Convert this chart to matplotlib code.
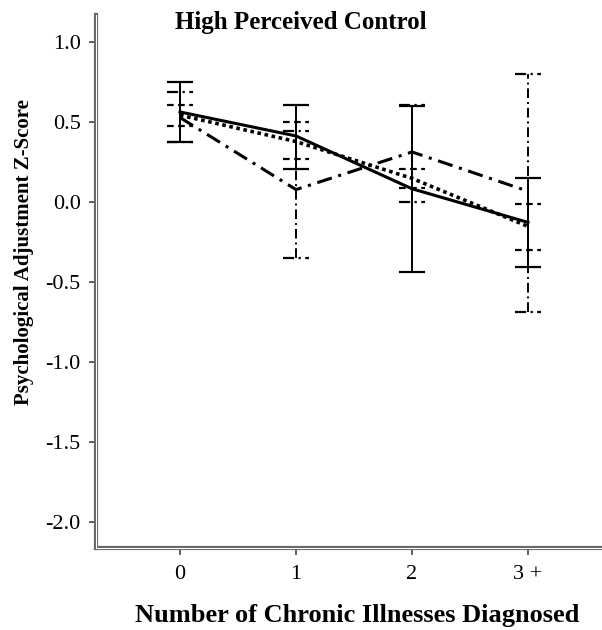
import matplotlib.pyplot as plt

# Group means and 95% CI bounds per number of chronic illnesses
categories = ["0", "1", "2", "3 +"]
solid_mean = [0.565, 0.415, 0.085, -0.125]
solid_lo = [0.375, 0.21, -0.435, -0.405]
solid_hi = [0.75, 0.61, 0.605, 0.155]

dotted_mean = [0.545, 0.38, 0.15, -0.15]
dotted_lo = [0.48, 0.27, 0.09, -0.30]
dotted_hi = [0.61, 0.50, 0.21, -0.01]

dashdot_mean = [0.53, 0.08, 0.315, 0.07]
dashdot_lo = [0.375, -0.35, 0.0, -0.685]
dashdot_hi = [0.69, 0.445, 0.61, 0.80]

plt.rcParams['font.family'] = ['Liberation Serif', 'DejaVu Serif']

fig = plt.figure(figsize=(6.02, 6.30), dpi=100)
ax = fig.add_axes([0.1595, 0.130, 0.8405, 0.846])

x = list(range(len(categories)))
cap = 0.115

series = [
    (solid_mean, solid_lo, solid_hi, '-', '-', 2.2),
    (dotted_mean, dotted_lo, dotted_hi, (0, (1, 1)), (0, (3, 2)), 2.6),
    (dashdot_mean, dashdot_lo, dashdot_hi, (0, (5, 2.2, 1, 2.2)), (0, (5, 2, 1, 2)), 2.2),
]

for mean, lo, hi, ls, els, lw in series:
    ax.plot(x, mean, color='black', linestyle=ls, linewidth=lw, zorder=3)
    ax.vlines(x, lo, hi, colors='black', linestyles=els, linewidth=1.4, zorder=2)
    xl = [i - cap for i in x]
    xr = [i + cap for i in x]
    ax.hlines(lo, xl, xr, colors='black', linestyles=els, linewidth=1.6, zorder=2)
    ax.hlines(hi, xl, xr, colors='black', linestyles=els, linewidth=1.6, zorder=2)

ax.set_xlim(-0.724, 3.638)
ax.set_ylim(-2.16, 1.17)
ax.set_xticks(x)
ax.set_xticklabels(categories, fontsize=16)
ax.set_yticks([1.0, 0.5, 0.0, -0.5, -1.0, -1.5, -2.0])
ax.set_yticklabels(["1.0", "0.5", "0.0", "-0.5", "-1.0", "-1.5", "-2.0"], fontsize=16)
ax.tick_params(axis='both', direction='out', length=5, width=1.2, color='#444444')
ax.tick_params(axis='y', pad=6)
ax.tick_params(axis='x', pad=7)

for side in ['top', 'right']:
    ax.spines[side].set_visible(False)
for side in ['left', 'bottom']:
    ax.spines[side].set_color('#666666')
    ax.spines[side].set_linewidth(3)

# thin white stroke inside the spines for the double-rule look
ax.plot([0, 0], [0, 1], transform=ax.transAxes, color='white', lw=0.8, clip_on=False, zorder=5)
ax.plot([0, 1], [0, 0], transform=ax.transAxes, color='white', lw=0.8, clip_on=False, zorder=5)

ax.set_xlabel("Number of Chronic Illnesses Diagnosed", fontsize=19, fontweight='bold')
ax.xaxis.set_label_coords(0.516, -0.104)
ax.set_ylabel("Psychological Adjustment Z-Score", fontsize=15, fontweight='bold')
ax.yaxis.set_label_coords(-0.122, 0.555)

fig.text(0.5, 0.983, "High Perceived Control", ha='center', va='top', fontsize=18, fontweight='bold')

fig.savefig("out.png", dpi=100)
